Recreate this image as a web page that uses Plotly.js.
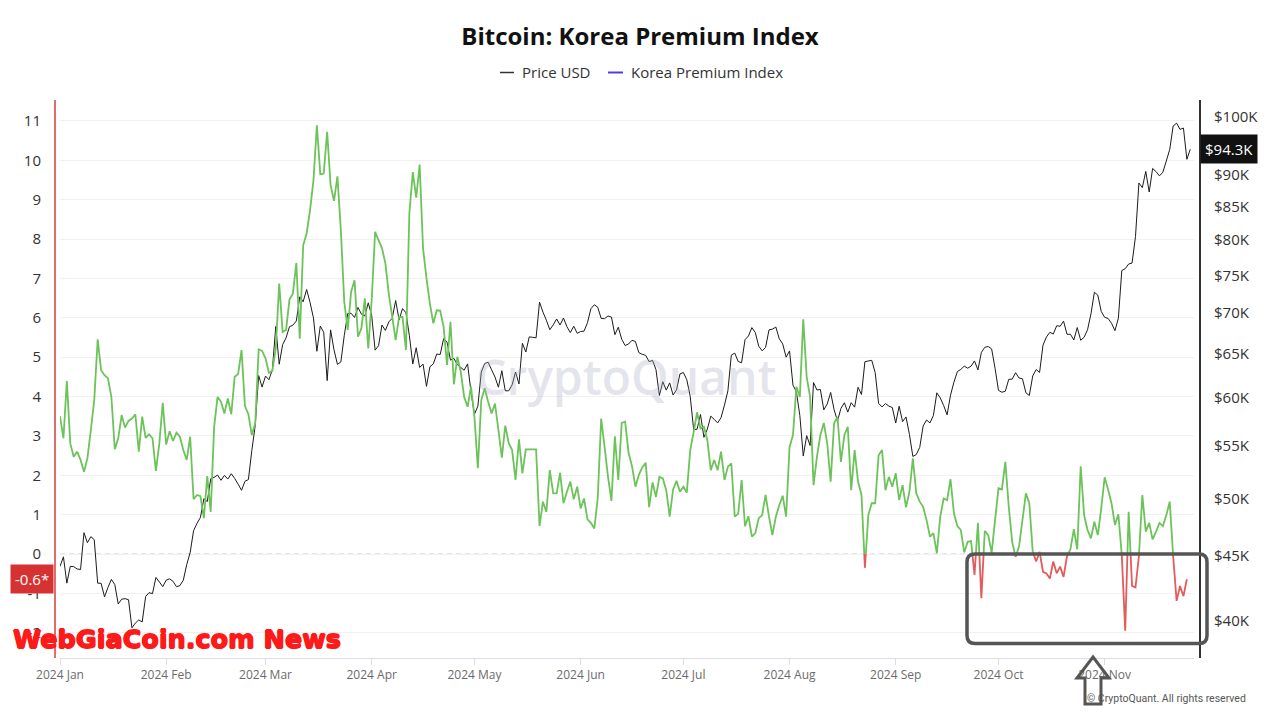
<!DOCTYPE html>
<html>
<head>
<meta charset="utf-8">
<script src="https://cdn.plot.ly/plotly-3.0.1.min.js"></script>
<style>
html,body{margin:0;padding:0;background:#fff;}
#chart{width:1280px;height:720px;}
</style>
</head>
<body>
<div id="chart"></div>
<script>
// ---------------- DATA (daily, starting 2024-01-01) ----------------
const START_DATE = '2024-01-01';
const seriesNames = ['Price USD', 'Korea Premium Index'];

// Korea Premium Index (%)
const premJan = [3.5,2.94,4.39,2.81,2.47,2.6,2.39,2.09,2.43,3.15,3.91,5.45,4.67,4.54,4.46,3.99,2.66,2.94,3.53,3.21,3.38,3.44,3.55,2.6,3.49,2.95,3.04,2.94,2.11,2.81,3.84];
const premFeb = [2.78,3.12,2.87,3.08,2.98,2.64,2.39,2.98,1.39,1.5,1.47,0.91,1.98,1.07,3.23,3.99,3.87,3.57,3.95,3.55,4.5,4.57,5.18,3.76,3.55,3.02,3.32,5.2,5.16];
const premMar = [4.97,4.6,4.65,5.22,6.87,5.64,5.69,6.46,6.62,7.39,5.47,7.84,8.14,8.73,9.49,10.89,9.64,9.66,10.72,9.37,8.97,9.59,8.22,6.4,5.69,6.66,6.95,5.52,5.73,6.49,5.22];
const premApr = [6.45,8.18,7.97,7.77,7.38,6.6,6.02,5.43,6.02,6.02,5.18,8.65,9.7,9.05,9.89,7.76,7.0,6.36,5.86,6.19,6.18,5.77,4.8,5.9,4.31,5.01,4.63,3.99,3.74,4.25];
const premMay = [3.48,2.18,3.91,4.21,3.87,3.57,3.82,3.15,2.45,3.26,2.82,2.64,1.88,2.91,2.05,2.66,2.66,2.66,2.66,0.71,1.33,1.07,2.13,1.54,1.54,2.06,1.29,1.58,1.84,1.39,1.71];
const premJun = [1.16,1.41,0.88,0.79,0.65,1.41,3.44,2.72,1.96,1.35,2.99,1.88,3.33,3.36,2.57,2.23,1.71,2.01,2.2,2.32,1.19,1.82,1.45,1.96,1.92,1.62,0.95,1.64,1.86,1.58];
const premJul = [1.71,1.56,2.64,3.1,3.6,3.19,3.23,2.89,2.13,2.39,2.13,2.6,1.88,2.22,2.3,0.95,1.02,1.88,0.71,0.96,0.44,0.53,0.91,0.99,1.5,0.95,0.48,0.95,1.24,1.48,0.95];
const premAug = [2.72,3.02,4.25,3.99,5.96,4.5,3.99,1.75,2.47,3.02,3.33,2.81,1.84,3.32,3.48,2.34,3.02,3.23,1.62,2.64,1.84,1.5,-0.35,0.99,1.29,1.29,2.51,2.64,1.62,1.96,1.71];
const premSep = [2.05,1.37,1.75,1.19,1.58,2.43,1.54,1.33,1.2,0.86,0.44,0.53,0.02,0.95,1.41,1.37,1.9,1.03,0.71,0.61,0.04,0.31,0.33,-0.53,0.79,-1.12,0.59,0.48,0.03,0.86];
const premOct = [1.67,1.64,2.34,1.2,0.31,-0.07,0.19,0.86,1.54,1.29,0.06,-0.19,0.06,-0.45,-0.49,-0.62,-0.19,-0.49,-0.32,-0.58,-0.05,0.12,0.63,0.12,2.23,0.99,0.61,0.4,0.82,0.48,1.16];
const premNov = [1.95,1.64,1.29,0.74,1.01,-0.03,-1.95,1.07,-0.81,-0.85,-0.05,1.5,0.57,0.79,0.37,0.57,0.79,0.71,0.99,1.33,-0.05,-1.19,-0.81,-1.07,-0.64];

// Bitcoin price (thousand USD)
const priceJan = [44.18,44.95,42.85,44.18,44.16,43.97,43.93,46.97,46.12,46.63,46.37,42.85,42.84,41.80,42.51,43.15,42.74,41.26,41.62,41.66,41.58,39.51,39.85,40.08,39.93,41.82,42.12,42.04,43.30,42.95,42.58];
const priceFeb = [43.08,43.19,42.99,42.58,42.66,43.08,44.32,45.30,47.15,47.77,48.29,49.96,49.70,51.81,51.94,52.16,51.66,52.12,51.78,52.28,51.84,51.30,50.73,51.57,51.73,54.52,57.09,62.50,61.20];
const priceMar = [62.44,62.03,63.17,68.33,63.80,66.11,66.93,68.30,68.50,69.02,72.12,71.48,73.08,71.40,69.40,65.32,68.39,67.61,61.93,67.91,65.49,63.78,64.06,67.23,69.96,69.99,69.46,70.74,69.89,69.65,71.33];
const priceApr = [69.70,65.45,65.98,68.51,67.84,68.90,69.36,71.63,69.14,70.59,70.06,67.20,63.82,65.74,63.43,63.81,61.28,63.51,63.84,64.99,64.93,66.84,66.41,64.28,64.48,63.76,63.42,63.11,63.84,60.64];
const priceMay = [58.25,59.12,62.89,63.89,64.03,63.16,62.33,61.19,63.05,60.79,60.79,61.45,62.90,61.55,66.27,65.23,67.05,67.00,66.94,71.43,70.14,69.12,67.93,68.53,69.27,68.52,69.39,68.30,67.58,68.36,67.49];
const priceJun = [67.71,67.75,68.80,70.57,71.08,70.76,69.34,69.31,69.65,69.51,67.32,68.24,66.76,66.01,66.19,66.64,66.49,65.15,64.96,64.83,64.10,64.25,63.18,60.28,61.80,60.86,61.67,60.32,60.89,62.68];
const priceJul = [62.85,62.03,60.17,56.66,56.69,58.23,55.86,56.71,58.05,57.72,57.34,57.90,59.23,60.79,64.87,65.10,64.12,63.97,66.71,67.16,68.19,67.58,65.93,65.37,65.78,67.91,68.00,68.26,66.82,66.20,64.62];
const priceAug = [65.36,61.42,60.68,58.12,53.99,56.03,55.03,61.71,60.88,60.94,58.72,59.35,60.61,58.74,57.56,58.87,59.48,58.48,59.49,59.01,61.18,60.38,64.09,64.18,64.25,62.83,59.42,59.03,59.39,59.12,58.97];
const priceSep = [57.33,59.11,57.48,57.97,56.16,53.95,54.14,54.84,57.02,57.65,57.34,58.13,60.57,60.01,59.18,58.19,60.31,61.76,62.95,63.20,63.58,63.34,63.58,64.18,63.14,65.18,65.79,65.89,65.60,63.33];
const priceOct = [60.84,60.63,60.75,62.07,62.09,62.82,62.22,62.13,60.58,60.27,62.45,63.19,62.85,66.05,67.04,67.61,67.40,68.42,68.36,69.00,67.37,67.37,66.68,68.20,66.64,67.01,67.93,69.91,72.72,72.34,70.22];
const priceNov = [69.48,69.33,68.74,67.81,69.36,75.64,75.90,76.55,76.68,80.47,88.70,87.96,90.58,87.25,91.07,90.56,89.85,90.46,92.31,94.29,98.37,98.89,97.78,98.01,92.60,94.30];

// Axis ticks
const premTicks = [-2,-1,0,1,2,3,4,5,6,7,8,9,10,11];
const priceTicks = [40,45,50,55,60,65,70,75,80,85,90,95,100];
const priceTickText = ['$40K','$45K','$50K','$55K','$60K','$65K','$70K','$75K','$80K','$85K','$90K','$95K','$100K'];

// ---------------- BUILD ----------------
const premium = [].concat(premJan,premFeb,premMar,premApr,premMay,premJun,premJul,premAug,premSep,premOct,premNov);
const price = [].concat(priceJan,priceFeb,priceMar,priceApr,priceMay,priceJun,priceJul,priceAug,priceSep,priceOct,priceNov);

function dailyDates(start, n){
  const s = new Date(start + 'T00:00:00Z');
  const out = [];
  for(let i=0;i<n;i++){
    const d = new Date(s.getTime() + i*86400000);
    out.push(d.toISOString().slice(0,10));
  }
  return out;
}
const premDates = dailyDates(START_DATE, premium.length);
const priceDates = dailyDates(START_DATE, price.length);

// layout geometry (pixels)
const W=1280, H=720, ML=54, MR=80, MT=100, MB=62;
const PW = W-ML-MR, PH = H-MT-MB;
const px = x => (x-ML)/PW;
const py = y => (H-MB-y)/PH;

const yMin = -2.64, yMax = 11.53;
const f0 = (0 - yMin)/(yMax - yMin);
const pMin = 37.40, pMax = 103.14;

const FONT = 'Open Sans, Noto Sans, sans-serif';
const RED_TXT = '#ff1a1a';

function roundRect(x0,y0,x1,y1,r){
  const X = v => px(v).toFixed(5), Y = v => py(v).toFixed(5);
  return `M${X(x0+r)},${Y(y0)} L${X(x1-r)},${Y(y0)} Q${X(x1)},${Y(y0)} ${X(x1)},${Y(y0+r)} ` +
         `L${X(x1)},${Y(y1-r)} Q${X(x1)},${Y(y1)} ${X(x1-r)},${Y(y1)} ` +
         `L${X(x0+r)},${Y(y1)} Q${X(x0)},${Y(y1)} ${X(x0)},${Y(y1-r)} ` +
         `L${X(x0)},${Y(y0+r)} Q${X(x0)},${Y(y0)} ${X(x0+r)},${Y(y0)} Z`;
}
function polyPath(pts){
  return 'M' + pts.map(p => px(p[0]).toFixed(5)+','+py(p[1]).toFixed(5)).join(' L') + ' Z';
}

const traces = [
  {x:[], y:[], xaxis:'x', yaxis:'y', mode:'lines', showlegend:false, hoverinfo:'skip'},
  {x:priceDates, y:price, xaxis:'x', yaxis:'y2', mode:'lines', name:seriesNames[0],
   line:{color:'#1c1c1c', width:1, simplify:false}, showlegend:false, hoverinfo:'skip'},
  {x:premDates, y:premium, xaxis:'x', yaxis:'y3', mode:'lines', name:seriesNames[1],
   line:{color:'#6cc35a', width:1.8, simplify:false}, showlegend:false, hoverinfo:'skip'},
  {x:premDates, y:premium, xaxis:'x', yaxis:'y4', mode:'lines', name:seriesNames[1],
   line:{color:'#e35b5b', width:1.8, simplify:false}, showlegend:false, hoverinfo:'skip'}
];

const lastPrem = premium[premium.length-1];
const lastPrice = price[price.length-1];

const layout = {
  width:W, height:H,
  margin:{l:ML, r:MR, t:MT, b:MB, pad:0},
  paper_bgcolor:'#ffffff',
  plot_bgcolor:'rgba(0,0,0,0)',
  showlegend:false,
  title:{text:'Bitcoin: Korea Premium Index', x:0.5, xref:'container', xanchor:'center',
         y:1-37/720, yref:'container', yanchor:'middle',
         font:{family:FONT, size:24, weight:700, color:'#111'}},
  xaxis:{type:'date', domain:[px(60), px(1194)], range:['2024-01-01','2024-11-27 02:00'],
         anchor:'y', showgrid:false, zeroline:false, showline:true, linecolor:'#dcdce6', linewidth:1,
         ticks:'outside', ticklen:6, tickcolor:'#dcdce6', tickwidth:1,
         tick0:'2024-01-01', dtick:'M1', tickformat:'%Y %b',
         tickfont:{family:FONT, size:12, color:'#6b6b6b'}, fixedrange:true},
  yaxis:{domain:[0,1], range:[yMin,yMax], anchor:'free', position:0,
         tickmode:'array', tickvals:premTicks, ticktext:premTicks.map(String),
         showgrid:true, gridcolor:'#f1f1f4', gridwidth:1, zeroline:false,
         showline:true, linecolor:'#e06c6c', linewidth:1.5, ticks:'', ticklabelstandoff:10,
         tickfont:{family:FONT, size:15, color:'#333'}, fixedrange:true},
  yaxis2:{overlaying:'y', side:'right', anchor:'free', position:1, type:'log',
         range:[Math.log10(pMin), Math.log10(pMax)],
         tickmode:'array', tickvals:priceTicks, ticktext:priceTickText,
         showgrid:false, zeroline:false, showline:true, linecolor:'#333', linewidth:2,
         ticks:'', ticklabelstandoff:10,
         tickfont:{family:FONT, size:15, color:'#333'}, fixedrange:true},
  yaxis3:{domain:[f0,1], range:[0,yMax], anchor:'x', visible:false, fixedrange:true},
  yaxis4:{domain:[0,f0], range:[yMin,0], anchor:'x', visible:false, fixedrange:true},
  shapes:[
    {type:'line', xref:'paper', yref:'y', x0:px(60), x1:px(1194), y0:0, y1:0,
     line:{color:'#c9c9d3', width:1, dash:'5px,4px'}, layer:'below'},
    {type:'path', xref:'paper', yref:'paper', path:roundRect(967,554,1207,643.5,8),
     line:{color:'#555', width:3.5}, fillcolor:'rgba(0,0,0,0)'},
    {type:'path', xref:'paper', yref:'paper',
     path:polyPath([[1093,657],[1109,678],[1101,678],[1101,704],[1085,704],[1085,678],[1077,678]]),
     line:{color:'#555', width:3}, fillcolor:'rgba(0,0,0,0)'},
    {type:'line', xref:'paper', yref:'paper', x0:px(500), x1:px(514), y0:py(72.5), y1:py(72.5),
     line:{color:'#333', width:1.5}},
    {type:'line', xref:'paper', yref:'paper', x0:px(608), x1:px(623), y0:py(72.5), y1:py(72.5),
     line:{color:'#4b3fe0', width:2}}
  ],
  annotations:[
    {xref:'paper', yref:'paper', x:px(520), y:py(72.5), xanchor:'left', yanchor:'middle',
     text:seriesNames[0], showarrow:false, font:{family:FONT, size:15, color:'#333'}},
    {xref:'paper', yref:'paper', x:px(629), y:py(72.5), xanchor:'left', yanchor:'middle',
     text:seriesNames[1], showarrow:false, font:{family:FONT, size:15, color:'#333'}},
    {xref:'paper', yref:'paper', x:px(626), y:py(376), xanchor:'center', yanchor:'middle',
     text:'CryptoQuant', showarrow:false,
     font:{family:FONT, size:48, weight:600, color:'rgba(170,170,195,0.33)'}},
    {xref:'paper', yref:'y', x:px(53.5), y:lastPrem, xanchor:'right', yanchor:'middle',
     text:lastPrem.toFixed(1)+'*', showarrow:false, bgcolor:'#d63232', borderpad:4,
     font:{family:FONT, size:15, color:'#fff'}},
    {xref:'paper', yref:'y2', x:px(1200), y:Math.log10(lastPrice), xanchor:'left', yanchor:'middle',
     text:'$'+lastPrice.toFixed(1)+'K', showarrow:false, bgcolor:'#111', borderpad:4,
     font:{family:FONT, size:15, color:'#fff'}},
    {xref:'paper', yref:'paper', x:px(11), y:py(639), xanchor:'left', yanchor:'middle',
     text:'WebGiaCoin.com News', showarrow:false,
     font:{family:'DejaVu Sans, sans-serif', size:25.5, weight:700, color:RED_TXT,
           shadow:`0.7px 0 0 ${RED_TXT}, -0.7px 0 0 ${RED_TXT}, 0 0.7px 0 ${RED_TXT}, 0 -0.7px 0 ${RED_TXT}`}},
    {xref:'paper', yref:'paper', x:px(1248), y:py(698), xanchor:'right', yanchor:'middle',
     text:'© CryptoQuant. All rights reserved', showarrow:false,
     font:{family:'Roboto, sans-serif', size:10.5, color:'#555'}}
  ]
};

Plotly.newPlot('chart', traces, layout, {staticPlot:true, displayModeBar:false});
</script>
</body>
</html>
